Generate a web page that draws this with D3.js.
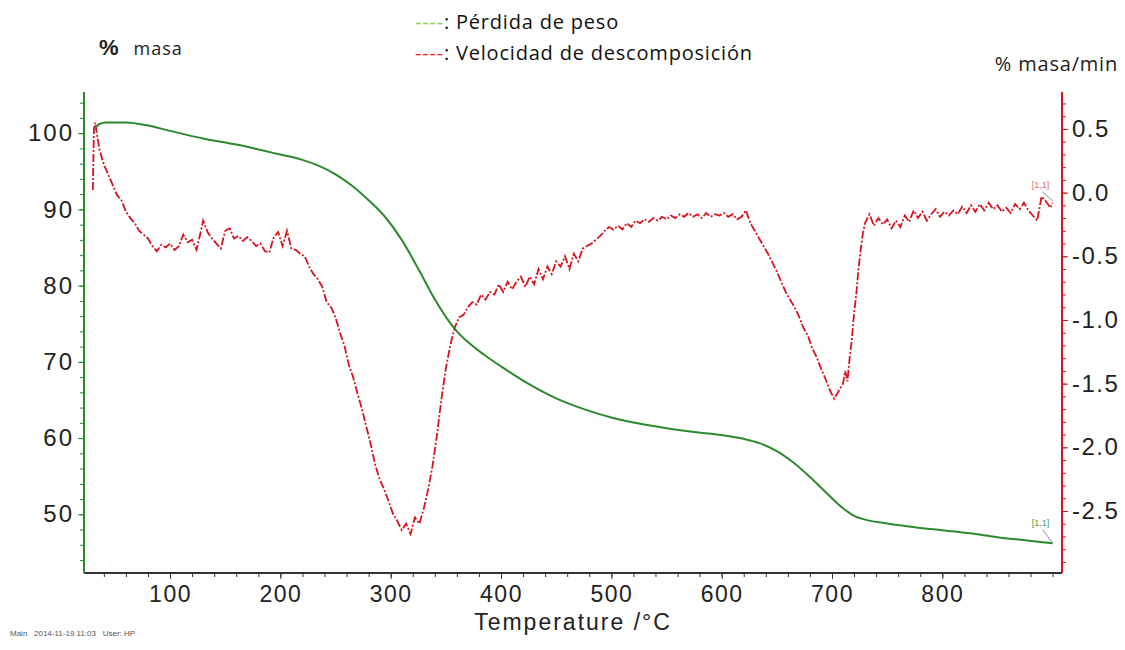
<!DOCTYPE html>
<html>
<head>
<meta charset="utf-8">
<script src="https://cdn.jsdelivr.net/npm/d3@7"></script>
<style>
  body { margin: 0; background: #fff; }
  svg { display: block; }
  .tick text { font-family: "Liberation Sans", Arial, sans-serif; fill: #222; }
</style>
</head>
<body>
<svg id="chart" width="1125" height="650"></svg>
<script>
"use strict";

// mass loss curve (TG): [temperature °C, % mass]
var massData = [
  [32, 100.6], [36, 101.2], [42, 101.4], [60, 101.4], [80, 101.0], [100, 100.3],
  [130, 99.3], [160, 98.5], [200, 97.2], [220, 96.5], [235, 95.7], [250, 94.6],
  [265, 93.1], [280, 91.2], [295, 89.0], [310, 86.0], [325, 82.2], [340, 78.2],
  [350, 75.9], [360, 74.0], [370, 72.6], [385, 70.9], [400, 69.4], [425, 67.1],
  [450, 65.2], [475, 63.8], [500, 62.7], [525, 61.9], [550, 61.3], [575, 60.8],
  [600, 60.4], [620, 59.9], [635, 59.3], [650, 58.3], [665, 56.8], [680, 54.9],
  [695, 52.8], [710, 50.8], [720, 49.8], [730, 49.3], [750, 48.8], [775, 48.3],
  [800, 47.9], [825, 47.5], [850, 47.0], [875, 46.6], [900, 46.2]
];

// decomposition rate (DTG): [temperature °C, % mass/min]
var rateData = [
  [30, 0.02], [31, 0.50], [32, 0.55], [36, 0.34], [40, 0.22], [44, 0.14], [48, 0.06],
  [52, -0.02], [56, -0.06], [60, -0.15], [64, -0.20], [68, -0.24], [72, -0.30],
  [76, -0.33], [80, -0.36], [84, -0.42], [88, -0.46], [92, -0.41], [96, -0.43],
  [100, -0.40], [104, -0.45], [108, -0.42], [112, -0.33], [116, -0.39], [120, -0.37],
  [124, -0.45], [128, -0.30], [130, -0.22], [134, -0.31], [138, -0.36], [142, -0.40],
  [146, -0.44], [150, -0.30], [154, -0.28], [158, -0.36], [162, -0.34], [166, -0.38],
  [170, -0.35], [174, -0.38], [178, -0.42], [182, -0.40], [186, -0.46], [190, -0.47],
  [194, -0.35], [198, -0.31], [202, -0.42], [206, -0.30], [210, -0.44], [214, -0.45],
  [218, -0.48], [222, -0.50], [226, -0.58], [230, -0.64], [234, -0.68], [238, -0.74],
  [242, -0.86], [246, -0.90], [250, -0.98], [254, -1.10], [258, -1.20], [262, -1.35],
  [266, -1.45], [270, -1.58], [274, -1.70], [278, -1.84], [282, -1.98], [286, -2.14],
  [290, -2.25], [294, -2.33], [298, -2.42], [302, -2.52], [306, -2.58], [310, -2.65],
  [314, -2.60], [318, -2.68], [322, -2.55], [326, -2.60], [330, -2.48], [334, -2.33],
  [338, -2.14], [342, -1.90], [346, -1.62], [350, -1.38], [354, -1.20], [358, -1.06],
  [362, -0.98], [366, -0.96], [370, -0.90], [374, -0.86], [378, -0.88], [382, -0.80],
  [386, -0.84], [390, -0.78], [394, -0.80], [398, -0.72], [402, -0.78], [406, -0.70],
  [410, -0.76], [414, -0.70], [418, -0.66], [422, -0.74], [426, -0.66], [430, -0.72],
  [434, -0.60], [438, -0.68], [442, -0.58], [446, -0.64], [450, -0.54], [454, -0.58],
  [458, -0.50], [462, -0.60], [466, -0.48], [470, -0.54], [474, -0.44], [478, -0.42],
  [482, -0.40], [486, -0.37], [490, -0.34], [494, -0.30], [498, -0.27], [502, -0.29],
  [506, -0.26], [510, -0.29], [514, -0.24], [518, -0.27], [522, -0.22], [526, -0.24],
  [530, -0.21], [534, -0.23], [538, -0.20], [542, -0.22], [546, -0.19], [550, -0.21],
  [554, -0.18], [558, -0.20], [562, -0.17], [566, -0.19], [570, -0.16], [574, -0.19],
  [578, -0.17], [582, -0.20], [586, -0.16], [590, -0.19], [594, -0.17], [598, -0.18],
  [602, -0.16], [606, -0.19], [610, -0.17], [614, -0.21], [618, -0.19], [622, -0.14],
  [626, -0.24], [630, -0.30], [634, -0.36], [638, -0.42], [642, -0.48], [646, -0.55],
  [650, -0.62], [654, -0.70], [658, -0.78], [662, -0.84], [666, -0.90], [670, -0.97],
  [674, -1.06], [678, -1.12], [682, -1.22], [686, -1.29], [690, -1.38], [694, -1.46],
  [698, -1.55], [702, -1.62], [706, -1.56], [710, -1.50], [712, -1.40], [714, -1.48],
  [716, -1.30], [718, -1.15], [720, -0.95], [722, -0.80], [724, -0.60], [726, -0.45],
  [728, -0.32], [730, -0.24], [734, -0.17], [738, -0.26], [742, -0.20], [746, -0.25],
  [750, -0.21], [754, -0.28], [758, -0.22], [762, -0.27], [766, -0.18], [770, -0.23],
  [774, -0.14], [778, -0.20], [782, -0.15], [786, -0.22], [790, -0.17], [794, -0.13],
  [798, -0.19], [802, -0.15], [806, -0.18], [810, -0.14], [814, -0.17], [818, -0.11],
  [822, -0.16], [826, -0.10], [830, -0.15], [834, -0.09], [838, -0.14], [842, -0.08],
  [846, -0.13], [850, -0.10], [854, -0.15], [858, -0.12], [862, -0.16], [866, -0.09],
  [870, -0.13], [874, -0.08], [878, -0.14], [882, -0.18], [886, -0.22], [890, -0.03],
  [894, -0.07], [898, -0.12], [900, -0.08]
];

// tick values
var tempTicks = [100, 200, 300, 400, 500, 600, 700, 800];
var massTicks = [50, 60, 70, 80, 90, 100];
var rateTicks = [-2.5, -2.0, -1.5, -1.0, -0.5, 0.0, 0.5];

var legendItems = [
  {dash: "----", color: "#8ed04e", label: ": Pérdida de peso"},
  {dash: "----", color: "#f02828", label: ": Velocidad de descomposición"}
];

var green = "#2b8a2e";
var red = "#d8121e";

var svg = d3.select("#chart");
var plotLeft = 84, plotRight = 1062, plotTop = 92, plotBottom = 573;

var x = d3.scaleLinear().domain([22, 908.5]).range([plotLeft, plotRight]);
var yMass = d3.scaleLinear().domain([42.3, 105.4]).range([plotBottom, plotTop]);
var yRate = d3.scaleLinear().domain([-2.987, 0.79]).range([plotBottom, plotTop]);

// minor ticks, taken between the axis ends
function minor(scale, step) {
  var d = scale.domain(), out = [];
  var start = Math.ceil(Math.min(d[0], d[1]) / step) * step;
  for (var v = start; v <= Math.max(d[0], d[1]) + 1e-9; v += step) out.push(+v.toFixed(3));
  return out;
}

// x axis
var gx = svg.append("g").attr("transform", "translate(0," + plotBottom + ")");
gx.append("g")
  .call(d3.axisBottom(x).tickValues(minor(x, 20)).tickSize(4).tickFormat(""))
  .call(function(g) { g.select(".domain").remove(); });
gx.append("g")
  .call(d3.axisBottom(x).tickValues(tempTicks).tickSize(6).tickPadding(7).tickFormat(d3.format("d")))
  .call(function(g) { g.select(".domain").remove(); })
  .selectAll("text")
    .style("font-size", "23px")
    .style("letter-spacing", "1.5px");
gx.selectAll("line").attr("stroke", "#333");
gx.append("line").attr("x1", plotLeft).attr("x2", plotRight).attr("stroke", "#333").attr("stroke-width", 2);

// left axis (mass)
var gl = svg.append("g").attr("transform", "translate(" + plotLeft + ",0)");
gl.append("g")
  .call(d3.axisLeft(yMass).tickValues(minor(yMass, 2)).tickSize(4).tickFormat(""))
  .call(function(g) { g.select(".domain").remove(); });
gl.append("g")
  .call(d3.axisLeft(yMass).tickValues(massTicks).tickSize(6).tickPadding(4).tickFormat(d3.format("d")))
  .call(function(g) { g.select(".domain").remove(); })
  .selectAll("text")
    .style("font-size", "24px")
    .style("letter-spacing", "2px");
gl.selectAll("line").attr("stroke", green);
gl.append("line").attr("y1", plotTop).attr("y2", plotBottom).attr("stroke", green).attr("stroke-width", 2);

// right axis (rate)
var gr = svg.append("g").attr("transform", "translate(" + plotRight + ",0)");
gr.append("g")
  .call(d3.axisRight(yRate).tickValues(minor(yRate, 0.1)).tickSize(4).tickFormat(""))
  .call(function(g) { g.select(".domain").remove(); });
gr.append("g")
  .call(d3.axisRight(yRate).tickValues(rateTicks).tickSize(6).tickPadding(4)
    .tickFormat(function(d) { return d.toFixed(1); }))
  .call(function(g) { g.select(".domain").remove(); })
  .selectAll("text")
    .style("font-size", "24px")
    .style("letter-spacing", "1.5px");
gr.selectAll("line").attr("stroke", red);
gr.append("line").attr("y1", plotTop).attr("y2", plotBottom).attr("stroke", red).attr("stroke-width", 2);

// curves
var massLine = d3.line()
  .x(function(d) { return x(d[0]); })
  .y(function(d) { return yMass(d[1]); })
  .curve(d3.curveMonotoneX);

var rateLine = d3.line()
  .x(function(d) { return x(d[0]); })
  .y(function(d) { return yRate(d[1]); });

svg.append("path")
  .datum(rateData)
  .attr("d", rateLine)
  .attr("fill", "none")
  .attr("stroke", red)
  .attr("stroke-width", 1.8)
  .attr("stroke-dasharray", "8,2,2,2");

svg.append("path")
  .datum(massData)
  .attr("d", massLine)
  .attr("fill", "none")
  .attr("stroke", green)
  .attr("stroke-width", 2);

// "[1,1]" end markers
var lastRate = rateData[rateData.length - 1];
var lastMass = massData[massData.length - 1];
svg.append("text")
  .attr("x", x(lastRate[0]) - 12).attr("y", yRate(lastRate[1]) - 15)
  .attr("text-anchor", "middle")
  .style("font", "9px 'Liberation Sans', Arial, sans-serif").style("fill", "#e07070")
  .text("[1,1]");
svg.append("line")
  .attr("x1", x(lastRate[0]) - 10).attr("y1", yRate(lastRate[1]) - 11)
  .attr("x2", x(lastRate[0])).attr("y2", yRate(lastRate[1]) - 2)
  .attr("stroke", "#777").attr("stroke-width", 0.8);
svg.append("text")
  .attr("x", x(lastMass[0]) - 12).attr("y", yMass(lastMass[1]) - 17)
  .attr("text-anchor", "middle")
  .style("font", "9px 'Liberation Sans', Arial, sans-serif").style("fill", "#3a9a5a")
  .text("[1,1]");
svg.append("line")
  .attr("x1", x(lastMass[0]) - 10).attr("y1", yMass(lastMass[1]) - 14)
  .attr("x2", x(lastMass[0])).attr("y2", yMass(lastMass[1]))
  .attr("stroke", "#777").attr("stroke-width", 0.8);

// axis titles
svg.append("text")
  .attr("x", 573).attr("y", 630)
  .attr("text-anchor", "middle")
  .style("font", "23px 'Liberation Sans', Arial, sans-serif")
  .style("letter-spacing", "2px")
  .style("fill", "#222")
  .text("Temperature /°C");

var lt = svg.append("text").attr("x", 99).attr("y", 55).style("fill", "#222");
lt.append("tspan").style("font", "bold 22px 'Liberation Sans', Arial, sans-serif").text("%");
lt.append("tspan").attr("dx", 15)
  .style("font", "18px 'Open Sans', sans-serif").style("letter-spacing", "1px")
  .text("masa");

svg.append("text")
  .attr("x", 1118).attr("y", 71)
  .attr("text-anchor", "end")
  .style("font", "20px 'Open Sans', sans-serif").style("letter-spacing", "0.8px")
  .style("fill", "#222")
  .text("% masa/min");

// legend
var legend = svg.append("g").attr("transform", "translate(415,29)");
legendItems.forEach(function(d, i) {
  var t = legend.append("text").attr("y", i * 31)
    .style("font", "20px 'Open Sans', sans-serif").style("letter-spacing", "0.8px")
    .style("fill", "#111");
  t.append("tspan").style("fill", d.color).text(d.dash);
  t.append("tspan").text(d.label);
});

// footer
svg.append("text")
  .attr("x", 10).attr("y", 636)
  .style("font", "8px 'Liberation Sans', Arial, sans-serif").style("fill", "#555")
  .attr("xml:space", "preserve")
  .text("Main   2014-11-19 11:03   User: HP");
</script>
</body>
</html>
